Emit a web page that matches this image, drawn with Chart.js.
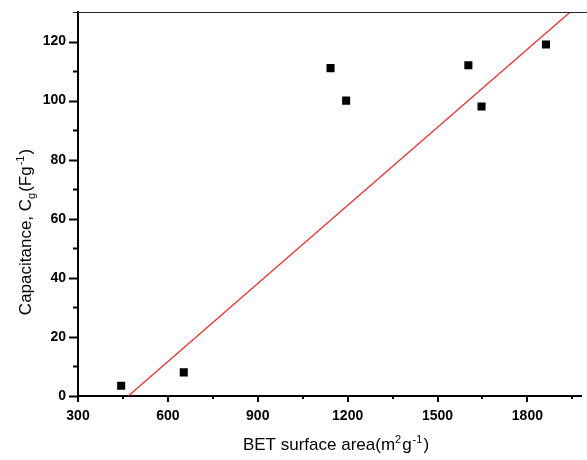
<!DOCTYPE html>
<html>
<head>
<meta charset="utf-8">
<script src="https://cdn.jsdelivr.net/npm/chart.js@4"></script>
<style>
  html, body { margin: 0; padding: 0; background: #fff; }
  #wrap { width: 587px; height: 460px; position: relative; }
</style>
</head>
<body>
<div id="wrap"><canvas id="my-chart"></canvas></div>
<script>
// BET surface area (m2/g) vs capacitance (F/g)
const betArea = [444, 653, 1143, 1195, 1603, 1647, 1862];
const capacitance = [3.5, 8, 111, 100, 112, 98, 119];

// linear fit, two end points
const fitX = [468, 1943];
const fitY = [0, 130];

// labelled ticks and all tick marks (major + minor)
const xTicks = [300, 600, 900, 1200, 1500, 1800];
const yTicks = [0, 20, 40, 60, 80, 100, 120];
const xTickMarks = [300, 450, 600, 750, 900, 1050, 1200, 1350, 1500, 1650, 1800, 1950];
const yTickMarks = [0, 10, 20, 30, 40, 50, 60, 70, 80, 90, 100, 110, 120];

const FONT = '"Liberation Sans", Arial, sans-serif';

// tick marks, thin top line, axis titles
const axisDecor = {
  id: 'axisDecor',
  afterDraw(chart) {
    const ctx = chart.ctx;
    const area = chart.chartArea;
    const xs = chart.scales.x, ys = chart.scales.y;
    ctx.save();
    ctx.strokeStyle = '#000';
    ctx.lineWidth = 2;
    ys.ticks.forEach(t => {
      const py = Math.round(ys.getPixelForValue(t.value)) + 0.5;
      const len = yTicks.includes(t.value) ? 9 : 5;
      ctx.beginPath();
      ctx.moveTo(area.left - len, py);
      ctx.lineTo(area.left, py);
      ctx.stroke();
    });
    xs.ticks.forEach(t => {
      const px = Math.round(xs.getPixelForValue(t.value));
      const len = xTicks.includes(t.value) ? 6 : 3;
      ctx.beginPath();
      ctx.moveTo(px, area.bottom);
      ctx.lineTo(px, area.bottom + len);
      ctx.stroke();
    });
    ctx.lineWidth = 1.2;
    ctx.strokeStyle = '#222';
    ctx.beginPath();
    ctx.moveTo(area.left - 5, area.top + 0.5);
    ctx.lineTo(chart.width, area.top + 0.5);
    ctx.stroke();

    const size = 17;
    const small = 11;
    const drawParts = (parts, x, y) => {
      let w = 0;
      parts.forEach(p => {
        ctx.font = (p.s ? small : size) + 'px ' + FONT;
        w += ctx.measureText(p.t).width + (p.gap || 0);
      });
      let cx = x - w / 2;
      parts.forEach(p => {
        ctx.font = (p.s ? small : size) + 'px ' + FONT;
        ctx.fillText(p.t, cx, y + (p.s || 0));
        cx += ctx.measureText(p.t).width + (p.gap || 0);
      });
    };
    ctx.fillStyle = '#000';
    ctx.textBaseline = 'alphabetic';
    drawParts([
      { t: 'BET surface area(m' }, { t: '2', s: -7, gap: 1 }, { t: 'g', gap: 1 },
      { t: '-1', s: -7, gap: 1 }, { t: ')' }
    ], 336, 450);

    ctx.translate(31, 232);
    ctx.rotate(-Math.PI / 2);
    drawParts([
      { t: 'Capacitance, C' }, { t: 'g', s: 4, gap: 1 }, { t: '(Fg', gap: 1 },
      { t: '-1', s: -7, gap: 1 }, { t: ')' }
    ], 0, 0);
    ctx.restore();
  }
};

const canvas = document.getElementById('my-chart');
const ctx = canvas.getContext('2d');

const chart = new Chart(ctx, {
  type: 'scatter',
  data: {
    datasets: [{
      label: 'data',
      data: betArea.map((x, i) => ({ x: x, y: capacitance[i] })),
      pointStyle: 'rect',
      pointRadius: 5.7,
      pointHoverRadius: 5.7,
      backgroundColor: '#000',
      borderColor: '#000',
      borderWidth: 0,
      showLine: false,
    }, {
      label: 'fit',
      data: fitX.map((x, i) => ({ x: x, y: fitY[i] })),
      showLine: true,
      borderColor: '#ff2020',
      borderWidth: 1.2,
      pointRadius: 0,
      fill: false,
    }]
  },
  options: {
    responsive: true,
    maintainAspectRatio: false,
    animation: false,
    layout: { padding: { left: 0, right: -5, top: 12, bottom: 0 } },
    plugins: {
      legend: { display: false },
      tooltip: { enabled: false },
    },
    scales: {
      x: {
        type: 'linear',
        min: 300,
        max: 1980,
        afterBuildTicks: s => { s.ticks = xTickMarks.map(v => ({ value: v })); },
        afterFit: s => { s.height = 64; s.paddingLeft = 0; s.paddingRight = 0; },
        ticks: {
          autoSkip: false,
          maxRotation: 0,
          padding: 12,
          color: '#000',
          font: { family: FONT, size: 14, weight: 'bold' },
          callback: v => xTicks.includes(v) ? String(v) : '',
        },
        grid: { display: false, drawTicks: false },
        border: { display: true, color: '#000', width: 2 },
      },
      y: {
        type: 'linear',
        min: 0,
        max: 130,
        afterBuildTicks: s => { s.ticks = yTickMarks.map(v => ({ value: v })); },
        afterFit: s => { s.width = 78; s.paddingTop = 0; s.paddingBottom = 0; },
        ticks: {
          autoSkip: false,
          padding: 12,
          color: '#000',
          font: { family: FONT, size: 14, weight: 'bold' },
          callback: v => yTicks.includes(v) ? String(v) : '',
        },
        grid: { display: false, drawTicks: false },
        border: { display: true, color: '#000', width: 2 },
      }
    }
  },
  plugins: [axisDecor]
});
</script>
</body>
</html>
